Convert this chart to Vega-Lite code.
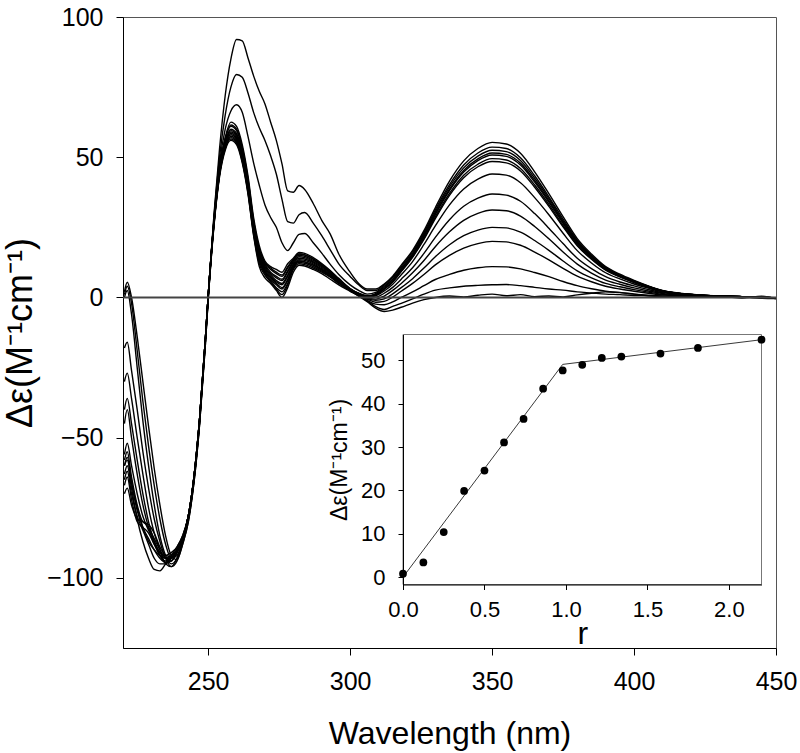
{
"$schema": "https://vega.github.io/schema/vega-lite/v6.json",
"width": 653, "height": 631,
"autosize": {"type": "none"},
"padding": {"left": 123, "top": 17, "right": 24, "bottom": 105},
"background": "white",
"config": {
 "view": {"stroke": "#555", "strokeWidth": 1},
 "font": "Liberation Sans",
 "axis": {"labelFont": "Liberation Sans", "titleFont": "Liberation Sans", "labelColor": "black", "titleColor": "black", "titleFontWeight": "normal", "domainColor": "black", "tickColor": "black", "grid": false, "labelFlush": false, "labelOverlap": false}
},
"datasets": {
 "cd": [
{"c":0,"w":220.5,"v":2},{"c":0,"w":221.5,"v":5.4},{"c":0,"w":223,"v":0},{"c":0,"w":225,"v":-14},{"c":0,"w":227,"v":-30},{"c":0,"w":229,"v":-46},{"c":0,"w":231,"v":-61},{"c":0,"w":233,"v":-74},{"c":0,"w":235,"v":-85},{"c":0,"w":237,"v":-92},{"c":0,"w":239,"v":-93.5},{"c":0,"w":241,"v":-88},{"c":0,"w":243,"v":-80},{"c":0,"w":245,"v":-66},{"c":0,"w":247,"v":-45},{"c":0,"w":249,"v":-17},{"c":0,"w":250,"v":-1},{"c":0,"w":252,"v":25},{"c":0,"w":254,"v":43},{"c":0,"w":256,"v":52.5},{"c":0,"w":258,"v":56},{"c":0,"w":260,"v":54.5},{"c":0,"w":262,"v":48},{"c":0,"w":264,"v":37},{"c":0,"w":266,"v":22},{"c":0,"w":268,"v":11},{"c":0,"w":270,"v":7},{"c":0,"w":272,"v":5},{"c":0,"w":274,"v":2.5},{"c":0,"w":276,"v":0},{"c":0,"w":278,"v":3.5},{"c":0,"w":280,"v":9},{"c":0,"w":282,"v":11.5},{"c":0,"w":284,"v":11.2},{"c":0,"w":287,"v":10},{"c":0,"w":290,"v":8.5},{"c":0,"w":293,"v":6.5},{"c":0,"w":296,"v":4.5},{"c":0,"w":300,"v":2.2},{"c":0,"w":303,"v":0.5},{"c":0,"w":306,"v":-1.5},{"c":0,"w":309,"v":-3.8},{"c":0,"w":312,"v":-5},{"c":0,"w":315,"v":-4.5},{"c":0,"w":318,"v":-3.5},{"c":0,"w":322,"v":-2},{"c":0,"w":326,"v":-0.8},{"c":0,"w":330,"v":0},{"c":0,"w":335,"v":0.5},{"c":0,"w":340,"v":0.2},{"c":0,"w":345,"v":0.8},{"c":0,"w":350,"v":1.2},{"c":0,"w":355,"v":0.6},{"c":0,"w":360,"v":1.0},{"c":0,"w":365,"v":0.3},{"c":0,"w":370,"v":0.5},{"c":0,"w":375,"v":0.2},{"c":0,"w":380,"v":0.9},{"c":0,"w":385,"v":1.5},{"c":0,"w":390,"v":2.0},{"c":0,"w":395,"v":1.8},{"c":0,"w":400,"v":1.2},{"c":0,"w":405,"v":0.6},{"c":0,"w":410,"v":0.3},{"c":0,"w":417,"v":0.5},{"c":0,"w":424,"v":0.1},{"c":0,"w":431,"v":0.3},{"c":0,"w":438,"v":-0.2},{"c":0,"w":445,"v":0.4},{"c":0,"w":450,"v":-0.5},
{"c":1,"w":220.5,"v":1},{"c":1,"w":221.5,"v":4},{"c":1,"w":223,"v":-2},{"c":1,"w":225,"v":-19},{"c":1,"w":227,"v":-37},{"c":1,"w":229,"v":-53},{"c":1,"w":231,"v":-67},{"c":1,"w":233,"v":-79},{"c":1,"w":235,"v":-88},{"c":1,"w":237,"v":-93},{"c":1,"w":239,"v":-92},{"c":1,"w":241,"v":-87},{"c":1,"w":243,"v":-79},{"c":1,"w":245,"v":-65},{"c":1,"w":247,"v":-44},{"c":1,"w":249,"v":-16},{"c":1,"w":250,"v":-0.5},{"c":1,"w":252,"v":25.5},{"c":1,"w":254,"v":43.5},{"c":1,"w":256,"v":53},{"c":1,"w":258,"v":56.5},{"c":1,"w":260,"v":55},{"c":1,"w":262,"v":48.5},{"c":1,"w":264,"v":37.5},{"c":1,"w":266,"v":22.5},{"c":1,"w":268,"v":12},{"c":1,"w":270,"v":8},{"c":1,"w":272,"v":5.5},{"c":1,"w":274,"v":3},{"c":1,"w":276,"v":1},{"c":1,"w":278,"v":4.5},{"c":1,"w":280,"v":10},{"c":1,"w":282,"v":12},{"c":1,"w":284,"v":11.7},{"c":1,"w":287,"v":10.5},{"c":1,"w":290,"v":9},{"c":1,"w":293,"v":7.2},{"c":1,"w":296,"v":5},{"c":1,"w":300,"v":2.4},{"c":1,"w":303,"v":0.6},{"c":1,"w":306,"v":-1.2},{"c":1,"w":309,"v":-3.3},{"c":1,"w":312,"v":-4.3},{"c":1,"w":315,"v":-3.2},{"c":1,"w":318,"v":-2.1},{"c":1,"w":322,"v":-0.5},{"c":1,"w":326,"v":1.2},{"c":1,"w":330,"v":2.6},{"c":1,"w":335,"v":3.4},{"c":1,"w":340,"v":4.0},{"c":1,"w":345,"v":4.3},{"c":1,"w":350,"v":4.5},{"c":1,"w":355,"v":4.6},{"c":1,"w":360,"v":4.2},{"c":1,"w":365,"v":3.6},{"c":1,"w":370,"v":3.0},{"c":1,"w":375,"v":2.6},{"c":1,"w":380,"v":2.0},{"c":1,"w":385,"v":1.6},{"c":1,"w":390,"v":1.2},{"c":1,"w":395,"v":1.0},{"c":1,"w":400,"v":0.7},{"c":1,"w":405,"v":0.6},{"c":1,"w":410,"v":0.4},{"c":1,"w":417,"v":0.3},{"c":1,"w":424,"v":0.5},{"c":1,"w":431,"v":0.2},{"c":1,"w":438,"v":0.1},{"c":1,"w":445,"v":-0.3},{"c":1,"w":450,"v":-0.4},
{"c":2,"w":220.5,"v":0},{"c":2,"w":221.5,"v":2.5},{"c":2,"w":223,"v":-6},{"c":2,"w":225,"v":-25},{"c":2,"w":227,"v":-44},{"c":2,"w":229,"v":-60},{"c":2,"w":231,"v":-74},{"c":2,"w":233,"v":-85},{"c":2,"w":235,"v":-92},{"c":2,"w":237,"v":-95},{"c":2,"w":239,"v":-93},{"c":2,"w":241,"v":-87},{"c":2,"w":243,"v":-79},{"c":2,"w":245,"v":-65},{"c":2,"w":247,"v":-44},{"c":2,"w":249,"v":-16},{"c":2,"w":250,"v":0},{"c":2,"w":252,"v":26},{"c":2,"w":254,"v":44},{"c":2,"w":256,"v":53.5},{"c":2,"w":258,"v":57},{"c":2,"w":260,"v":55.5},{"c":2,"w":262,"v":49},{"c":2,"w":264,"v":38},{"c":2,"w":266,"v":23},{"c":2,"w":268,"v":13},{"c":2,"w":270,"v":8.5},{"c":2,"w":272,"v":6},{"c":2,"w":274,"v":3.5},{"c":2,"w":276,"v":2},{"c":2,"w":278,"v":5},{"c":2,"w":280,"v":10.5},{"c":2,"w":282,"v":12.5},{"c":2,"w":284,"v":12.2},{"c":2,"w":287,"v":11},{"c":2,"w":290,"v":9.4},{"c":2,"w":293,"v":7.5},{"c":2,"w":296,"v":5.2},{"c":2,"w":300,"v":2.5},{"c":2,"w":303,"v":0.7},{"c":2,"w":306,"v":-1},{"c":2,"w":309,"v":-2.4},{"c":2,"w":312,"v":-2.6},{"c":2,"w":315,"v":-1.6},{"c":2,"w":318,"v":0},{"c":2,"w":322,"v":2},{"c":2,"w":326,"v":4.2},{"c":2,"w":330,"v":6.4},{"c":2,"w":335,"v":8.2},{"c":2,"w":340,"v":9.7},{"c":2,"w":345,"v":10.6},{"c":2,"w":350,"v":11},{"c":2,"w":355,"v":10.9},{"c":2,"w":360,"v":10.2},{"c":2,"w":365,"v":8.9},{"c":2,"w":370,"v":7.4},{"c":2,"w":375,"v":5.7},{"c":2,"w":380,"v":4.2},{"c":2,"w":385,"v":3.1},{"c":2,"w":390,"v":2.2},{"c":2,"w":395,"v":1.7},{"c":2,"w":400,"v":1.2},{"c":2,"w":405,"v":0.8},{"c":2,"w":410,"v":0.5},{"c":2,"w":417,"v":0.3},{"c":2,"w":424,"v":0.2},{"c":2,"w":431,"v":0.4},{"c":2,"w":438,"v":0},{"c":2,"w":445,"v":0.2},{"c":2,"w":450,"v":-0.3},
{"c":3,"w":220.5,"v":-18},{"c":3,"w":221.5,"v":-16},{"c":3,"w":223,"v":-26},{"c":3,"w":225,"v":-40},{"c":3,"w":227,"v":-55},{"c":3,"w":229,"v":-68},{"c":3,"w":231,"v":-79},{"c":3,"w":233,"v":-87},{"c":3,"w":235,"v":-93},{"c":3,"w":237,"v":-96},{"c":3,"w":239,"v":-94},{"c":3,"w":241,"v":-88},{"c":3,"w":243,"v":-80},{"c":3,"w":245,"v":-66},{"c":3,"w":247,"v":-45},{"c":3,"w":249,"v":-17},{"c":3,"w":250,"v":-1},{"c":3,"w":252,"v":25.5},{"c":3,"w":254,"v":44},{"c":3,"w":256,"v":53.5},{"c":3,"w":258,"v":57.5},{"c":3,"w":260,"v":56},{"c":3,"w":262,"v":49.5},{"c":3,"w":264,"v":38.5},{"c":3,"w":266,"v":23.5},{"c":3,"w":268,"v":13.5},{"c":3,"w":270,"v":9},{"c":3,"w":272,"v":6.5},{"c":3,"w":274,"v":4.5},{"c":3,"w":276,"v":3},{"c":3,"w":278,"v":6},{"c":3,"w":280,"v":11},{"c":3,"w":282,"v":13},{"c":3,"w":284,"v":12.7},{"c":3,"w":287,"v":11.5},{"c":3,"w":290,"v":9.8},{"c":3,"w":293,"v":7.8},{"c":3,"w":296,"v":5.5},{"c":3,"w":300,"v":2.6},{"c":3,"w":303,"v":0.8},{"c":3,"w":306,"v":-0.6},{"c":3,"w":309,"v":-1.7},{"c":3,"w":312,"v":-1.4},{"c":3,"w":315,"v":0.1},{"c":3,"w":318,"v":2.2},{"c":3,"w":322,"v":5},{"c":3,"w":326,"v":8.2},{"c":3,"w":330,"v":11.6},{"c":3,"w":335,"v":15},{"c":3,"w":340,"v":17.6},{"c":3,"w":345,"v":19.2},{"c":3,"w":350,"v":20},{"c":3,"w":355,"v":19.8},{"c":3,"w":360,"v":18.6},{"c":3,"w":365,"v":16.2},{"c":3,"w":370,"v":13.4},{"c":3,"w":375,"v":10.4},{"c":3,"w":380,"v":7.6},{"c":3,"w":385,"v":5.6},{"c":3,"w":390,"v":4},{"c":3,"w":395,"v":3},{"c":3,"w":400,"v":2.2},{"c":3,"w":405,"v":1.5},{"c":3,"w":410,"v":0.9},{"c":3,"w":417,"v":0.5},{"c":3,"w":424,"v":0.3},{"c":3,"w":431,"v":0.2},{"c":3,"w":438,"v":0.1},{"c":3,"w":445,"v":0},{"c":3,"w":450,"v":-0.2},
{"c":4,"w":220.5,"v":-30},{"c":4,"w":221.5,"v":-27},{"c":4,"w":223,"v":-36},{"c":4,"w":225,"v":-50},{"c":4,"w":227,"v":-63},{"c":4,"w":229,"v":-75},{"c":4,"w":231,"v":-84},{"c":4,"w":233,"v":-90},{"c":4,"w":235,"v":-95},{"c":4,"w":237,"v":-96},{"c":4,"w":239,"v":-93},{"c":4,"w":241,"v":-87},{"c":4,"w":243,"v":-79},{"c":4,"w":245,"v":-65},{"c":4,"w":247,"v":-44},{"c":4,"w":249,"v":-16},{"c":4,"w":250,"v":0},{"c":4,"w":252,"v":26},{"c":4,"w":254,"v":44},{"c":4,"w":256,"v":54},{"c":4,"w":258,"v":58},{"c":4,"w":260,"v":56.5},{"c":4,"w":262,"v":50},{"c":4,"w":264,"v":39},{"c":4,"w":266,"v":24},{"c":4,"w":268,"v":14},{"c":4,"w":270,"v":9.5},{"c":4,"w":272,"v":7},{"c":4,"w":274,"v":5},{"c":4,"w":276,"v":3.5},{"c":4,"w":278,"v":6.5},{"c":4,"w":280,"v":11},{"c":4,"w":282,"v":13},{"c":4,"w":284,"v":12.7},{"c":4,"w":287,"v":11.5},{"c":4,"w":290,"v":9.8},{"c":4,"w":293,"v":7.8},{"c":4,"w":296,"v":5.5},{"c":4,"w":300,"v":2.6},{"c":4,"w":303,"v":0.9},{"c":4,"w":306,"v":-0.4},{"c":4,"w":309,"v":-1},{"c":4,"w":312,"v":-0.5},{"c":4,"w":315,"v":1.3},{"c":4,"w":318,"v":3.5},{"c":4,"w":322,"v":6.7},{"c":4,"w":326,"v":10.5},{"c":4,"w":330,"v":14.5},{"c":4,"w":335,"v":18.8},{"c":4,"w":340,"v":22},{"c":4,"w":345,"v":24},{"c":4,"w":350,"v":25},{"c":4,"w":355,"v":24.8},{"c":4,"w":360,"v":23.3},{"c":4,"w":365,"v":20.3},{"c":4,"w":370,"v":16.8},{"c":4,"w":375,"v":13},{"c":4,"w":380,"v":9.5},{"c":4,"w":385,"v":7},{"c":4,"w":390,"v":5},{"c":4,"w":395,"v":3.8},{"c":4,"w":400,"v":2.8},{"c":4,"w":405,"v":1.9},{"c":4,"w":410,"v":1.1},{"c":4,"w":417,"v":0.6},{"c":4,"w":424,"v":0.4},{"c":4,"w":431,"v":0.3},{"c":4,"w":438,"v":0.1},{"c":4,"w":445,"v":0.1},{"c":4,"w":450,"v":-0.2},
{"c":5,"w":220.5,"v":-40},{"c":5,"w":221.5,"v":-36},{"c":5,"w":223,"v":-45},{"c":5,"w":225,"v":-58},{"c":5,"w":227,"v":-70},{"c":5,"w":229,"v":-80},{"c":5,"w":231,"v":-87},{"c":5,"w":233,"v":-92},{"c":5,"w":235,"v":-94},{"c":5,"w":237,"v":-93},{"c":5,"w":239,"v":-91},{"c":5,"w":241,"v":-86},{"c":5,"w":243,"v":-79},{"c":5,"w":245,"v":-65},{"c":5,"w":247,"v":-44},{"c":5,"w":249,"v":-16},{"c":5,"w":250,"v":0},{"c":5,"w":252,"v":26},{"c":5,"w":254,"v":44.5},{"c":5,"w":256,"v":54.5},{"c":5,"w":258,"v":58.5},{"c":5,"w":260,"v":57},{"c":5,"w":262,"v":50.5},{"c":5,"w":264,"v":39.5},{"c":5,"w":266,"v":24.5},{"c":5,"w":268,"v":14.5},{"c":5,"w":270,"v":10},{"c":5,"w":272,"v":7.5},{"c":5,"w":274,"v":5.5},{"c":5,"w":276,"v":4.5},{"c":5,"w":278,"v":7.5},{"c":5,"w":280,"v":11.5},{"c":5,"w":282,"v":13.5},{"c":5,"w":284,"v":13.2},{"c":5,"w":287,"v":12},{"c":5,"w":290,"v":10.2},{"c":5,"w":293,"v":8.1},{"c":5,"w":296,"v":5.7},{"c":5,"w":300,"v":2.7},{"c":5,"w":303,"v":1.0},{"c":5,"w":306,"v":-0.2},{"c":5,"w":309,"v":-0.6},{"c":5,"w":312,"v":0.5},{"c":5,"w":315,"v":2.5},{"c":5,"w":318,"v":5},{"c":5,"w":322,"v":8.8},{"c":5,"w":326,"v":13.2},{"c":5,"w":330,"v":18.1},{"c":5,"w":335,"v":23.4},{"c":5,"w":340,"v":27.5},{"c":5,"w":345,"v":30},{"c":5,"w":350,"v":31.2},{"c":5,"w":355,"v":30.9},{"c":5,"w":360,"v":29},{"c":5,"w":365,"v":25.3},{"c":5,"w":370,"v":20.9},{"c":5,"w":375,"v":16.2},{"c":5,"w":380,"v":11.9},{"c":5,"w":385,"v":8.7},{"c":5,"w":390,"v":6.2},{"c":5,"w":395,"v":4.7},{"c":5,"w":400,"v":3.4},{"c":5,"w":405,"v":2.3},{"c":5,"w":410,"v":1.4},{"c":5,"w":417,"v":0.8},{"c":5,"w":424,"v":0.5},{"c":5,"w":431,"v":0.3},{"c":5,"w":438,"v":0.2},{"c":5,"w":445,"v":0},{"c":5,"w":450,"v":-0.1},
{"c":6,"w":220.5,"v":-45},{"c":6,"w":221.5,"v":-40},{"c":6,"w":223,"v":-50},{"c":6,"w":225,"v":-63},{"c":6,"w":227,"v":-74},{"c":6,"w":229,"v":-82},{"c":6,"w":231,"v":-88},{"c":6,"w":233,"v":-92},{"c":6,"w":235,"v":-94.5},{"c":6,"w":237,"v":-94},{"c":6,"w":239,"v":-91},{"c":6,"w":241,"v":-86},{"c":6,"w":243,"v":-78},{"c":6,"w":245,"v":-64},{"c":6,"w":247,"v":-43},{"c":6,"w":249,"v":-15},{"c":6,"w":250,"v":0.5},{"c":6,"w":252,"v":26.5},{"c":6,"w":254,"v":45},{"c":6,"w":256,"v":55},{"c":6,"w":258,"v":59},{"c":6,"w":260,"v":57.5},{"c":6,"w":262,"v":51},{"c":6,"w":264,"v":40},{"c":6,"w":266,"v":25},{"c":6,"w":268,"v":15},{"c":6,"w":270,"v":10.5},{"c":6,"w":272,"v":8},{"c":6,"w":274,"v":6},{"c":6,"w":276,"v":5},{"c":6,"w":278,"v":8},{"c":6,"w":280,"v":12},{"c":6,"w":282,"v":14},{"c":6,"w":284,"v":13.7},{"c":6,"w":287,"v":12.4},{"c":6,"w":290,"v":10.6},{"c":6,"w":293,"v":8.4},{"c":6,"w":296,"v":5.9},{"c":6,"w":300,"v":2.8},{"c":6,"w":303,"v":1.1},{"c":6,"w":306,"v":0},{"c":6,"w":309,"v":0.1},{"c":6,"w":312,"v":1.5},{"c":6,"w":315,"v":3.6},{"c":6,"w":318,"v":6.5},{"c":6,"w":322,"v":10.6},{"c":6,"w":326,"v":15.7},{"c":6,"w":330,"v":21.4},{"c":6,"w":335,"v":27.7},{"c":6,"w":340,"v":32.5},{"c":6,"w":345,"v":35.4},{"c":6,"w":350,"v":36.9},{"c":6,"w":355,"v":36.5},{"c":6,"w":360,"v":34.3},{"c":6,"w":365,"v":29.9},{"c":6,"w":370,"v":24.7},{"c":6,"w":375,"v":19.2},{"c":6,"w":380,"v":14},{"c":6,"w":385,"v":10.3},{"c":6,"w":390,"v":7.4},{"c":6,"w":395,"v":5.5},{"c":6,"w":400,"v":4.1},{"c":6,"w":405,"v":2.8},{"c":6,"w":410,"v":1.7},{"c":6,"w":417,"v":0.9},{"c":6,"w":424,"v":0.6},{"c":6,"w":431,"v":0.4},{"c":6,"w":438,"v":0.2},{"c":6,"w":445,"v":0.1},{"c":6,"w":450,"v":-0.2},
{"c":7,"w":220.5,"v":-56},{"c":7,"w":221.5,"v":-52},{"c":7,"w":223,"v":-60},{"c":7,"w":225,"v":-70},{"c":7,"w":227,"v":-78},{"c":7,"w":229,"v":-83},{"c":7,"w":231,"v":-87},{"c":7,"w":233,"v":-91},{"c":7,"w":235,"v":-93},{"c":7,"w":237,"v":-93},{"c":7,"w":239,"v":-90},{"c":7,"w":241,"v":-86},{"c":7,"w":243,"v":-78},{"c":7,"w":245,"v":-64},{"c":7,"w":247,"v":-43},{"c":7,"w":249,"v":-15},{"c":7,"w":250,"v":0.5},{"c":7,"w":252,"v":26.5},{"c":7,"w":254,"v":45},{"c":7,"w":256,"v":55},{"c":7,"w":258,"v":59.5},{"c":7,"w":260,"v":58},{"c":7,"w":262,"v":51.5},{"c":7,"w":264,"v":40.5},{"c":7,"w":266,"v":25.5},{"c":7,"w":268,"v":15.5},{"c":7,"w":270,"v":11},{"c":7,"w":272,"v":8.5},{"c":7,"w":274,"v":7},{"c":7,"w":276,"v":6},{"c":7,"w":278,"v":9},{"c":7,"w":280,"v":12.5},{"c":7,"w":282,"v":14.5},{"c":7,"w":284,"v":14.2},{"c":7,"w":287,"v":12.8},{"c":7,"w":290,"v":11},{"c":7,"w":293,"v":8.7},{"c":7,"w":296,"v":6.1},{"c":7,"w":300,"v":2.9},{"c":7,"w":303,"v":1.2},{"c":7,"w":306,"v":0.1},{"c":7,"w":309,"v":0.6},{"c":7,"w":312,"v":2.3},{"c":7,"w":315,"v":4.7},{"c":7,"w":318,"v":8.1},{"c":7,"w":322,"v":12.8},{"c":7,"w":326,"v":18.9},{"c":7,"w":330,"v":25.5},{"c":7,"w":335,"v":33},{"c":7,"w":340,"v":38.7},{"c":7,"w":345,"v":42.2},{"c":7,"w":350,"v":44},{"c":7,"w":355,"v":43.6},{"c":7,"w":360,"v":40.9},{"c":7,"w":365,"v":35.6},{"c":7,"w":370,"v":29.5},{"c":7,"w":375,"v":22.9},{"c":7,"w":380,"v":16.7},{"c":7,"w":385,"v":12.3},{"c":7,"w":390,"v":8.8},{"c":7,"w":395,"v":6.6},{"c":7,"w":400,"v":4.8},{"c":7,"w":405,"v":3.3},{"c":7,"w":410,"v":2},{"c":7,"w":417,"v":1.1},{"c":7,"w":424,"v":0.7},{"c":7,"w":431,"v":0.4},{"c":7,"w":438,"v":0.2},{"c":7,"w":445,"v":0},{"c":7,"w":450,"v":-0.3},
{"c":8,"w":220.5,"v":-58},{"c":8,"w":221.5,"v":-55},{"c":8,"w":223,"v":-64},{"c":8,"w":225,"v":-74},{"c":8,"w":227,"v":-80},{"c":8,"w":229,"v":-81},{"c":8,"w":231,"v":-84},{"c":8,"w":233,"v":-89},{"c":8,"w":235,"v":-92},{"c":8,"w":237,"v":-92.5},{"c":8,"w":239,"v":-90},{"c":8,"w":241,"v":-86},{"c":8,"w":243,"v":-78},{"c":8,"w":245,"v":-64},{"c":8,"w":247,"v":-43},{"c":8,"w":249,"v":-15},{"c":8,"w":250,"v":0.5},{"c":8,"w":252,"v":26.5},{"c":8,"w":254,"v":45.5},{"c":8,"w":256,"v":55.5},{"c":8,"w":258,"v":60},{"c":8,"w":260,"v":58.5},{"c":8,"w":262,"v":52},{"c":8,"w":264,"v":41},{"c":8,"w":266,"v":26},{"c":8,"w":268,"v":16},{"c":8,"w":270,"v":11.5},{"c":8,"w":272,"v":9},{"c":8,"w":274,"v":7.5},{"c":8,"w":276,"v":6.5},{"c":8,"w":278,"v":9.5},{"c":8,"w":280,"v":13},{"c":8,"w":282,"v":15},{"c":8,"w":284,"v":14.7},{"c":8,"w":287,"v":13.2},{"c":8,"w":290,"v":11.3},{"c":8,"w":293,"v":9},{"c":8,"w":296,"v":6.3},{"c":8,"w":300,"v":3},{"c":8,"w":303,"v":1.3},{"c":8,"w":306,"v":0.2},{"c":8,"w":309,"v":0.9},{"c":8,"w":312,"v":2.9},{"c":8,"w":315,"v":5.5},{"c":8,"w":318,"v":9.2},{"c":8,"w":322,"v":14.3},{"c":8,"w":326,"v":20.7},{"c":8,"w":330,"v":28.1},{"c":8,"w":335,"v":36.4},{"c":8,"w":340,"v":42.7},{"c":8,"w":345,"v":46.6},{"c":8,"w":350,"v":48.5},{"c":8,"w":355,"v":48},{"c":8,"w":360,"v":45.1},{"c":8,"w":365,"v":39.3},{"c":8,"w":370,"v":32.5},{"c":8,"w":375,"v":25.2},{"c":8,"w":380,"v":18.4},{"c":8,"w":385,"v":13.6},{"c":8,"w":390,"v":9.7},{"c":8,"w":395,"v":7.3},{"c":8,"w":400,"v":5.3},{"c":8,"w":405,"v":3.6},{"c":8,"w":410,"v":2.2},{"c":8,"w":417,"v":1.2},{"c":8,"w":424,"v":0.7},{"c":8,"w":431,"v":0.5},{"c":8,"w":438,"v":0.2},{"c":8,"w":445,"v":0.1},{"c":8,"w":450,"v":-0.2},
{"c":9,"w":220.5,"v":-60},{"c":9,"w":221.5,"v":-57},{"c":9,"w":223,"v":-66},{"c":9,"w":225,"v":-76},{"c":9,"w":227,"v":-82},{"c":9,"w":229,"v":-86},{"c":9,"w":231,"v":-90},{"c":9,"w":233,"v":-93},{"c":9,"w":235,"v":-94.5},{"c":9,"w":237,"v":-93},{"c":9,"w":239,"v":-90},{"c":9,"w":241,"v":-86},{"c":9,"w":243,"v":-78},{"c":9,"w":245,"v":-64},{"c":9,"w":247,"v":-43},{"c":9,"w":249,"v":-15},{"c":9,"w":250,"v":0.5},{"c":9,"w":252,"v":27},{"c":9,"w":254,"v":46},{"c":9,"w":256,"v":56.5},{"c":9,"w":258,"v":61},{"c":9,"w":260,"v":59.5},{"c":9,"w":262,"v":53},{"c":9,"w":264,"v":42},{"c":9,"w":266,"v":27},{"c":9,"w":268,"v":17},{"c":9,"w":270,"v":12},{"c":9,"w":272,"v":10},{"c":9,"w":274,"v":8.5},{"c":9,"w":276,"v":7.5},{"c":9,"w":278,"v":10.5},{"c":9,"w":280,"v":13.5},{"c":9,"w":282,"v":15.5},{"c":9,"w":284,"v":15.2},{"c":9,"w":287,"v":13.7},{"c":9,"w":290,"v":11.7},{"c":9,"w":293,"v":9.3},{"c":9,"w":296,"v":6.5},{"c":9,"w":300,"v":3.1},{"c":9,"w":303,"v":1.4},{"c":9,"w":306,"v":0.5},{"c":9,"w":309,"v":1.0},{"c":9,"w":312,"v":3.0},{"c":9,"w":315,"v":5.6},{"c":9,"w":318,"v":9.4},{"c":9,"w":322,"v":14.6},{"c":9,"w":326,"v":21.1},{"c":9,"w":330,"v":28.7},{"c":9,"w":335,"v":37.1},{"c":9,"w":340,"v":43.6},{"c":9,"w":345,"v":47.5},{"c":9,"w":350,"v":49.5},{"c":9,"w":355,"v":49},{"c":9,"w":360,"v":46},{"c":9,"w":365,"v":40.1},{"c":9,"w":370,"v":33.2},{"c":9,"w":375,"v":25.7},{"c":9,"w":380,"v":18.8},{"c":9,"w":385,"v":13.9},{"c":9,"w":390,"v":9.9},{"c":9,"w":395,"v":7.4},{"c":9,"w":400,"v":5.4},{"c":9,"w":405,"v":3.7},{"c":9,"w":410,"v":2.3},{"c":9,"w":417,"v":1.3},{"c":9,"w":424,"v":0.8},{"c":9,"w":431,"v":0.5},{"c":9,"w":438,"v":0.3},{"c":9,"w":445,"v":0.2},{"c":9,"w":450,"v":-0.2},
{"c":10,"w":220.5,"v":-63},{"c":10,"w":221.5,"v":-60},{"c":10,"w":223,"v":-68},{"c":10,"w":225,"v":-79},{"c":10,"w":227,"v":-87},{"c":10,"w":229,"v":-93},{"c":10,"w":231,"v":-97},{"c":10,"w":233,"v":-97.5},{"c":10,"w":235,"v":-95},{"c":10,"w":237,"v":-92},{"c":10,"w":239,"v":-89},{"c":10,"w":241,"v":-85},{"c":10,"w":243,"v":-78},{"c":10,"w":245,"v":-64},{"c":10,"w":247,"v":-43},{"c":10,"w":249,"v":-15},{"c":10,"w":250,"v":0.5},{"c":10,"w":252,"v":27},{"c":10,"w":254,"v":46},{"c":10,"w":256,"v":56.5},{"c":10,"w":258,"v":61.5},{"c":10,"w":260,"v":60},{"c":10,"w":262,"v":53.5},{"c":10,"w":264,"v":42.5},{"c":10,"w":266,"v":27.5},{"c":10,"w":268,"v":17.5},{"c":10,"w":270,"v":12.5},{"c":10,"w":272,"v":10.5},{"c":10,"w":274,"v":9},{"c":10,"w":276,"v":8},{"c":10,"w":278,"v":11},{"c":10,"w":280,"v":13.5},{"c":10,"w":282,"v":15.5},{"c":10,"w":284,"v":15.2},{"c":10,"w":287,"v":13.7},{"c":10,"w":290,"v":11.7},{"c":10,"w":293,"v":9.3},{"c":10,"w":296,"v":6.5},{"c":10,"w":300,"v":3.1},{"c":10,"w":303,"v":1.4},{"c":10,"w":306,"v":0.5},{"c":10,"w":309,"v":1.0},{"c":10,"w":312,"v":3.1},{"c":10,"w":315,"v":5.8},{"c":10,"w":318,"v":9.7},{"c":10,"w":322,"v":15},{"c":10,"w":326,"v":21.7},{"c":10,"w":330,"v":29.5},{"c":10,"w":335,"v":38.1},{"c":10,"w":340,"v":44.7},{"c":10,"w":345,"v":48.8},{"c":10,"w":350,"v":50.8},{"c":10,"w":355,"v":50.3},{"c":10,"w":360,"v":47.2},{"c":10,"w":365,"v":41.1},{"c":10,"w":370,"v":34},{"c":10,"w":375,"v":26.4},{"c":10,"w":380,"v":19.3},{"c":10,"w":385,"v":14.2},{"c":10,"w":390,"v":10.2},{"c":10,"w":395,"v":7.6},{"c":10,"w":400,"v":5.6},{"c":10,"w":405,"v":3.8},{"c":10,"w":410,"v":2.3},{"c":10,"w":417,"v":1.3},{"c":10,"w":424,"v":0.8},{"c":10,"w":431,"v":0.5},{"c":10,"w":438,"v":0.3},{"c":10,"w":445,"v":0},{"c":10,"w":450,"v":-0.3},
{"c":11,"w":220.5,"v":-67},{"c":11,"w":221.5,"v":-64},{"c":11,"w":223,"v":-72},{"c":11,"w":225,"v":-80},{"c":11,"w":227,"v":-82},{"c":11,"w":229,"v":-84},{"c":11,"w":231,"v":-88},{"c":11,"w":233,"v":-91},{"c":11,"w":235,"v":-92},{"c":11,"w":237,"v":-91},{"c":11,"w":239,"v":-89},{"c":11,"w":241,"v":-85},{"c":11,"w":243,"v":-78},{"c":11,"w":245,"v":-64},{"c":11,"w":247,"v":-43},{"c":11,"w":249,"v":-15},{"c":11,"w":250,"v":0.5},{"c":11,"w":252,"v":27},{"c":11,"w":254,"v":46.5},{"c":11,"w":256,"v":57},{"c":11,"w":258,"v":62.5},{"c":11,"w":260,"v":61},{"c":11,"w":262,"v":54.5},{"c":11,"w":264,"v":43.5},{"c":11,"w":266,"v":28.5},{"c":11,"w":268,"v":18.5},{"c":11,"w":270,"v":13},{"c":11,"w":272,"v":11},{"c":11,"w":274,"v":10},{"c":11,"w":276,"v":9},{"c":11,"w":278,"v":12},{"c":11,"w":280,"v":14},{"c":11,"w":282,"v":16},{"c":11,"w":284,"v":15.7},{"c":11,"w":287,"v":14.2},{"c":11,"w":290,"v":12.1},{"c":11,"w":293,"v":9.6},{"c":11,"w":296,"v":6.8},{"c":11,"w":300,"v":3.2},{"c":11,"w":303,"v":1.5},{"c":11,"w":306,"v":0.6},{"c":11,"w":309,"v":1.4},{"c":11,"w":312,"v":3.6},{"c":11,"w":315,"v":6.3},{"c":11,"w":318,"v":10.1},{"c":11,"w":322,"v":15.3},{"c":11,"w":326,"v":22.1},{"c":11,"w":330,"v":29.9},{"c":11,"w":335,"v":38.6},{"c":11,"w":340,"v":45.3},{"c":11,"w":345,"v":49.4},{"c":11,"w":350,"v":51.5},{"c":11,"w":355,"v":51},{"c":11,"w":360,"v":47.9},{"c":11,"w":365,"v":41.7},{"c":11,"w":370,"v":34.5},{"c":11,"w":375,"v":26.8},{"c":11,"w":380,"v":19.6},{"c":11,"w":385,"v":14.4},{"c":11,"w":390,"v":10.3},{"c":11,"w":395,"v":7.7},{"c":11,"w":400,"v":5.7},{"c":11,"w":405,"v":3.9},{"c":11,"w":410,"v":2.3},{"c":11,"w":417,"v":1.3},{"c":11,"w":424,"v":0.8},{"c":11,"w":431,"v":0.5},{"c":11,"w":438,"v":0.3},{"c":11,"w":445,"v":0.1},{"c":11,"w":450,"v":-0.2},
{"c":12,"w":220.5,"v":-70},{"c":12,"w":221.5,"v":-68},{"c":12,"w":223,"v":-74},{"c":12,"w":225,"v":-79},{"c":12,"w":227,"v":-80},{"c":12,"w":229,"v":-82},{"c":12,"w":231,"v":-86},{"c":12,"w":233,"v":-90},{"c":12,"w":235,"v":-93},{"c":12,"w":237,"v":-94},{"c":12,"w":239,"v":-91},{"c":12,"w":241,"v":-86},{"c":12,"w":243,"v":-78},{"c":12,"w":245,"v":-64},{"c":12,"w":247,"v":-43},{"c":12,"w":249,"v":-15},{"c":12,"w":250,"v":0.5},{"c":12,"w":252,"v":27.5},{"c":12,"w":254,"v":48},{"c":12,"w":256,"v":60},{"c":12,"w":258,"v":66.5},{"c":12,"w":260,"v":68.7},{"c":12,"w":262,"v":66},{"c":12,"w":264,"v":57.5},{"c":12,"w":266,"v":48},{"c":12,"w":268,"v":40},{"c":12,"w":270,"v":33},{"c":12,"w":272,"v":28.5},{"c":12,"w":274,"v":25},{"c":12,"w":276,"v":19.5},{"c":12,"w":278,"v":16.7},{"c":12,"w":280,"v":19.5},{"c":12,"w":282,"v":22.5},{"c":12,"w":284,"v":22.8},{"c":12,"w":287,"v":19.5},{"c":12,"w":290,"v":15.8},{"c":12,"w":293,"v":11.8},{"c":12,"w":296,"v":8.2},{"c":12,"w":300,"v":4.5},{"c":12,"w":303,"v":2.5},{"c":12,"w":306,"v":1.2},{"c":12,"w":309,"v":1.8},{"c":12,"w":312,"v":4},{"c":12,"w":315,"v":6.6},{"c":12,"w":318,"v":10.4},{"c":12,"w":322,"v":15.7},{"c":12,"w":326,"v":22.6},{"c":12,"w":330,"v":30.5},{"c":12,"w":335,"v":39.4},{"c":12,"w":340,"v":46.2},{"c":12,"w":345,"v":50.4},{"c":12,"w":350,"v":52.5},{"c":12,"w":355,"v":52},{"c":12,"w":360,"v":48.8},{"c":12,"w":365,"v":42.5},{"c":12,"w":370,"v":35.2},{"c":12,"w":375,"v":27.3},{"c":12,"w":380,"v":20},{"c":12,"w":385,"v":14.7},{"c":12,"w":390,"v":10.5},{"c":12,"w":395,"v":7.9},{"c":12,"w":400,"v":5.8},{"c":12,"w":405,"v":3.9},{"c":12,"w":410,"v":2.4},{"c":12,"w":417,"v":1.3},{"c":12,"w":424,"v":0.8},{"c":12,"w":431,"v":0.5},{"c":12,"w":438,"v":0.3},{"c":12,"w":445,"v":0.1},{"c":12,"w":450,"v":-0.3},
{"c":13,"w":220.5,"v":-65},{"c":13,"w":221.5,"v":-62},{"c":13,"w":223,"v":-70},{"c":13,"w":225,"v":-78},{"c":13,"w":227,"v":-83},{"c":13,"w":229,"v":-88},{"c":13,"w":231,"v":-93},{"c":13,"w":233,"v":-95},{"c":13,"w":235,"v":-95},{"c":13,"w":237,"v":-93},{"c":13,"w":239,"v":-90},{"c":13,"w":241,"v":-86},{"c":13,"w":243,"v":-78},{"c":13,"w":245,"v":-64},{"c":13,"w":247,"v":-43},{"c":13,"w":249,"v":-15},{"c":13,"w":250,"v":0.5},{"c":13,"w":252,"v":28},{"c":13,"w":254,"v":50},{"c":13,"w":256,"v":65},{"c":13,"w":258,"v":75},{"c":13,"w":260,"v":79.5},{"c":13,"w":262,"v":78.5},{"c":13,"w":264,"v":73},{"c":13,"w":266,"v":66},{"c":13,"w":268,"v":60.5},{"c":13,"w":270,"v":56},{"c":13,"w":272,"v":50.5},{"c":13,"w":274,"v":44},{"c":13,"w":276,"v":35},{"c":13,"w":278,"v":27},{"c":13,"w":280,"v":26.5},{"c":13,"w":282,"v":29.5},{"c":13,"w":284,"v":30.3},{"c":13,"w":287,"v":26.5},{"c":13,"w":290,"v":22},{"c":13,"w":293,"v":17},{"c":13,"w":296,"v":12},{"c":13,"w":300,"v":7.5},{"c":13,"w":303,"v":4.5},{"c":13,"w":306,"v":2.5},{"c":13,"w":309,"v":2.5},{"c":13,"w":312,"v":4.5},{"c":13,"w":315,"v":7.2},{"c":13,"w":318,"v":11},{"c":13,"w":322,"v":16.3},{"c":13,"w":326,"v":23.2},{"c":13,"w":330,"v":31.2},{"c":13,"w":335,"v":40.2},{"c":13,"w":340,"v":47.2},{"c":13,"w":345,"v":51.5},{"c":13,"w":350,"v":53.6},{"c":13,"w":355,"v":53.1},{"c":13,"w":360,"v":49.8},{"c":13,"w":365,"v":43.4},{"c":13,"w":370,"v":35.9},{"c":13,"w":375,"v":27.9},{"c":13,"w":380,"v":20.4},{"c":13,"w":385,"v":15},{"c":13,"w":390,"v":10.7},{"c":13,"w":395,"v":8},{"c":13,"w":400,"v":5.9},{"c":13,"w":405,"v":4},{"c":13,"w":410,"v":2.4},{"c":13,"w":417,"v":1.3},{"c":13,"w":424,"v":0.8},{"c":13,"w":431,"v":0.5},{"c":13,"w":438,"v":0.3},{"c":13,"w":445,"v":0.1},{"c":13,"w":450,"v":-0.3},
{"c":14,"w":220.5,"v":-60},{"c":14,"w":221.5,"v":-58},{"c":14,"w":223,"v":-66},{"c":14,"w":225,"v":-75},{"c":14,"w":227,"v":-82},{"c":14,"w":229,"v":-87},{"c":14,"w":231,"v":-90},{"c":14,"w":233,"v":-92},{"c":14,"w":235,"v":-93},{"c":14,"w":237,"v":-92},{"c":14,"w":239,"v":-90},{"c":14,"w":241,"v":-86},{"c":14,"w":243,"v":-78},{"c":14,"w":245,"v":-64},{"c":14,"w":247,"v":-43},{"c":14,"w":249,"v":-15},{"c":14,"w":250,"v":0.5},{"c":14,"w":252,"v":29},{"c":14,"w":254,"v":53},{"c":14,"w":256,"v":72},{"c":14,"w":258,"v":85},{"c":14,"w":260,"v":92},{"c":14,"w":262,"v":91.5},{"c":14,"w":264,"v":85.5},{"c":14,"w":266,"v":79},{"c":14,"w":268,"v":73.5},{"c":14,"w":270,"v":69},{"c":14,"w":272,"v":62.5},{"c":14,"w":274,"v":56},{"c":14,"w":276,"v":47.6},{"c":14,"w":278,"v":38},{"c":14,"w":280,"v":37.5},{"c":14,"w":282,"v":39.9},{"c":14,"w":284,"v":38.5},{"c":14,"w":287,"v":33.5},{"c":14,"w":290,"v":27.5},{"c":14,"w":293,"v":22.6},{"c":14,"w":296,"v":15.5},{"c":14,"w":300,"v":9},{"c":14,"w":303,"v":5},{"c":14,"w":306,"v":3},{"c":14,"w":309,"v":3},{"c":14,"w":312,"v":4.8},{"c":14,"w":315,"v":7.6},{"c":14,"w":318,"v":11.5},{"c":14,"w":322,"v":16.8},{"c":14,"w":326,"v":23.8},{"c":14,"w":330,"v":32},{"c":14,"w":335,"v":41.5},{"c":14,"w":340,"v":48.7},{"c":14,"w":345,"v":53.1},{"c":14,"w":350,"v":55.3},{"c":14,"w":355,"v":54.7},{"c":14,"w":360,"v":51.4},{"c":14,"w":365,"v":44.8},{"c":14,"w":370,"v":37},{"c":14,"w":375,"v":28.8},{"c":14,"w":380,"v":21},{"c":14,"w":385,"v":15.5},{"c":14,"w":390,"v":11},{"c":14,"w":395,"v":8.3},{"c":14,"w":400,"v":6.1},{"c":14,"w":405,"v":4.1},{"c":14,"w":410,"v":2.5},{"c":14,"w":417,"v":1.4},{"c":14,"w":424,"v":0.8},{"c":14,"w":431,"v":0.5},{"c":14,"w":438,"v":0.3},{"c":14,"w":445,"v":0.1},{"c":14,"w":450,"v":-0.3}
 ],
 "titr": [
{"r":0,"v":0.8},{"r":0.125,"v":3.4},{"r":0.25,"v":10.4},{"r":0.375,"v":19.9},{"r":0.5,"v":24.6},{"r":0.62,"v":31.1},{"r":0.74,"v":36.5},{"r":0.86,"v":43.5},{"r":0.98,"v":47.7},{"r":1.1,"v":49.0},{"r":1.22,"v":50.6},{"r":1.34,"v":50.9},{"r":1.58,"v":51.6},{"r":1.81,"v":52.9},{"r":2.2,"v":54.8}
 ],
 "fit": [{"r":0,"v":0},{"r":0.98,"v":49.1},{"r":2.2,"v":54.8}],
 "frame": [{"x0":0,"x1":2.2,"y0":-1.7,"y1":56}]
},
"layer": [
 {
  "data": {"name": "cd"},
  "mark": {"type": "line", "color": "black", "strokeWidth": 1.4, "interpolate": "monotone"},
  "encoding": {
   "x": {"field": "w", "type": "quantitative", "scale": {"domain": [220, 450], "nice": false, "zero": false},
         "axis": {"values": [250, 300, 350, 400, 450], "format": "d", "tickSize": 7, "labelPadding": 14, "labelFontSize": 25, "title": "Wavelength (nm)", "titleFontSize": 32, "titlePadding": 24}},
   "y": {"field": "v", "type": "quantitative", "scale": {"domain": [-125, 100], "nice": false, "zero": false},
         "axis": {"values": [-100, -50, 0, 50, 100], "tickSize": 7, "labelPadding": 13, "labelFontSize": 25, "title": "Δε(M⁻¹cm⁻¹)", "titleFontSize": 36, "titlePadding": 7}},
   "detail": {"field": "c", "type": "nominal"}
  }
 },
 {
  "data": {"values": [{"z": 0}]},
  "mark": {"type": "rule", "color": "#444", "strokeWidth": 2},
  "encoding": {"y": {"field": "z", "type": "quantitative", "scale": {"domain": [-125, 100], "nice": false, "zero": false}, "axis": null}}
 },
 {
  "data": {"name": "frame"},
  "mark": {"type": "rect", "fill": "white", "stroke": "#777", "strokeWidth": 1},
  "encoding": {
   "x": {"field": "x0", "type": "quantitative", "scale": {"domain": [0, 2.2], "range": [280, 638.5], "nice": false, "zero": false}, "axis": null},
   "x2": {"field": "x1"},
   "y": {"field": "y0", "type": "quantitative", "scale": {"domain": [-1.7, 56], "range": [567.5, 317.5], "nice": false, "zero": false}, "axis": null},
   "y2": {"field": "y1"}
  }
 },
 {
  "data": {"name": "fit"},
  "mark": {"type": "line", "color": "#222", "strokeWidth": 0.9},
  "encoding": {
   "x": {"field": "r", "type": "quantitative", "scale": {"domain": [0, 2.2], "range": [280, 638.5], "nice": false, "zero": false}, "axis": null},
   "y": {"field": "v", "type": "quantitative", "scale": {"domain": [-1.7, 56], "range": [567.5, 317.5], "nice": false, "zero": false}, "axis": null}
  }
 },
 {
  "data": {"name": "titr"},
  "mark": {"type": "point", "filled": true, "color": "black", "size": 60, "opacity": 1},
  "encoding": {
   "x": {"field": "r", "type": "quantitative", "scale": {"domain": [0, 2.2], "range": [280, 638.5], "nice": false, "zero": false},
         "axis": {"orient": "bottom", "offset": -63.5, "zindex": 1, "values": [0, 0.5, 1, 1.5, 2], "format": ".1f", "tickSize": 5, "labelPadding": 10, "labelFontSize": 22, "title": "r", "titleFontSize": 32, "titlePadding": -2}},
   "y": {"field": "v", "type": "quantitative", "scale": {"domain": [-1.7, 56], "range": [567.5, 317.5], "nice": false, "zero": false},
         "axis": {"orient": "left", "offset": -280, "zindex": 1, "values": [0, 10, 20, 30, 40, 50], "tickSize": 5, "labelPadding": 13, "labelFontSize": 22, "title": "Δε(M⁻¹cm⁻¹)", "titleFontSize": 23, "titlePadding": 9}}
  }
 }
],
"resolve": {"scale": {"x": "independent", "y": "independent"}}
}
